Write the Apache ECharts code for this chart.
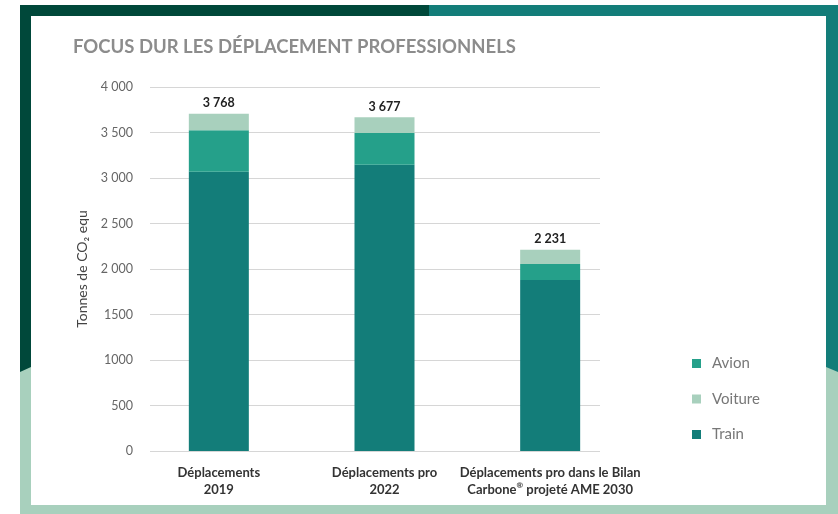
<!DOCTYPE html>
<html>
<head>
<meta charset="utf-8">
<script src="https://cdn.jsdelivr.net/npm/echarts@6/dist/echarts.min.js"></script>
<style>
  html, body { margin: 0; padding: 0; background: #fff; }
  #chart { width: 838px; height: 514px; }
</style>
</head>
<body>
<div id="chart"></div>
<script>
const categories = [
  'Déplacements\n2019',
  'Déplacements pro\n2022',
  'Déplacements pro dans le Bilan\nCarbone{sup|®} projeté AME 2030'
]
const train = [3070, 3146, 1880]
const avion = [455, 349, 174]
const voiture = [180, 172, 157]
const totalLabels = ['3 768', '3 677', '2 231']
const yTickLabels = ['0', '500', '1000', '1500', '2 000', '2 500', '3 000', '3 500', '4 000']

const FONT = 'Lato, "Noto Sans", sans-serif'
const colors = { train: '#137d79', avion: '#25a08a', voiture: '#a8d0bd' }

const chart = echarts.init(document.getElementById('chart'))

const option = {
  animation: false,
  textStyle: { fontFamily: FONT },
  title: {
    text: 'FOCUS DUR LES DÉPLACEMENT PROFESSIONNELS',
    left: 73,
    top: 38,
    padding: 0,
    textStyle: { fontFamily: FONT, fontSize: 18.5, fontWeight: 'bold', color: '#8c8c8c' }
  },
  // decorative frame
  graphic: [
    { type: 'rect', z: -10, shape: { x: 20, y: 5, width: 818, height: 509 }, style: { fill: '#a8d0bd' } },
    { type: 'polygon', z: -9, shape: { points: [[20, 5], [429, 5], [429, 16], [31, 16], [31, 367], [20, 372]] }, style: { fill: '#00483a' } },
    { type: 'polygon', z: -9, shape: { points: [[429, 5], [838, 5], [838, 372], [826, 367], [826, 16], [429, 16]] }, style: { fill: '#137d79' } },
    { type: 'rect', z: -8, shape: { x: 31, y: 16, width: 795, height: 489 }, style: { fill: '#ffffff' } }
  ],
  legend: {
    data: ['Avion', 'Voiture', 'Train'],
    orient: 'vertical',
    left: 687,
    top: 351,
    itemWidth: 9,
    itemHeight: 9,
    itemGap: 20.5,
    icon: 'rect',
    textStyle: { fontSize: 15, color: '#777', padding: [0, 0, 0, 6] }
  },
  grid: [
    { left: 150, right: 238, top: 87, bottom: 63 },
    { left: 136, right: 205, top: 87, bottom: 63 }
  ],
  xAxis: [
    { gridIndex: 0, type: 'category', data: categories, show: false },
    {
      gridIndex: 1,
      type: 'category',
      data: categories,
      axisLine: { show: false },
      axisTick: { show: false },
      axisLabel: {
        interval: 0,
        margin: 13,
        fontSize: 13,
        fontWeight: 'bold',
        color: '#333',
        lineHeight: 17,
        rich: {
          sup: { fontSize: 8, fontWeight: 'bold', color: '#333', verticalAlign: 'top', lineHeight: 17, padding: [0, 0, 6, 0] }
        }
      }
    }
  ],
  yAxis: [
    {
      gridIndex: 0,
      type: 'value',
      min: 0,
      max: 4000,
      interval: 500,
      name: 'Tonnes de CO₂ equ',
      nameLocation: 'middle',
      nameRotate: 90,
      nameGap: 55,
      nameTextStyle: { fontSize: 14, color: '#444' },
      axisLine: { show: false },
      axisTick: { show: false },
      axisLabel: {
        margin: 17,
        fontSize: 12.5,
        color: '#666',
        formatter: v => yTickLabels[Math.round(v / 500)]
      },
      splitLine: { lineStyle: { color: '#d6d6d6', width: 1 } }
    },
    { gridIndex: 1, type: 'value', min: 0, max: 4000, interval: 500, show: false }
  ],
  series: [
    {
      name: 'Train', type: 'bar', stack: 'total', xAxisIndex: 1, yAxisIndex: 1,
      barWidth: 60, data: train, itemStyle: { color: colors.train }
    },
    {
      name: 'Avion', type: 'bar', stack: 'total', xAxisIndex: 1, yAxisIndex: 1,
      barWidth: 60, data: avion, itemStyle: { color: colors.avion }
    },
    {
      name: 'Voiture', type: 'bar', stack: 'total', xAxisIndex: 1, yAxisIndex: 1,
      barWidth: 60, data: voiture, itemStyle: { color: colors.voiture },
      label: {
        show: true,
        position: 'top',
        distance: 4,
        fontSize: 12.5,
        fontWeight: 'bold',
        color: '#222',
        formatter: p => totalLabels[p.dataIndex]
      }
    }
  ]
}

chart.setOption(option)
</script>
</body>
</html>
